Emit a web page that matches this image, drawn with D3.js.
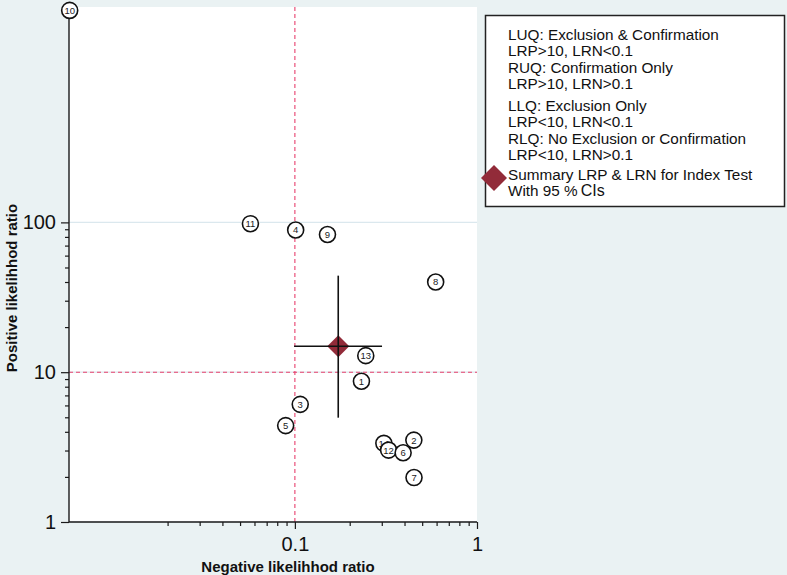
<!DOCTYPE html>
<html>
<head>
<meta charset="utf-8">
<script src="https://cdn.jsdelivr.net/npm/d3@7"></script>
<style>
  body { margin: 0; background: #eaf2f3; }
  svg { display: block; font-family: "Liberation Sans", Arial, sans-serif; }
</style>
</head>
<body>
<svg id="chart" width="787" height="575"></svg>
<script>
// study labels, negative LR (x) and positive LR (y), in drawing order
var studyIds = ["10", "11", "4", "9", "8", "13", "1", "3", "5", "14", "12", "6", "2", "7"];
var studyLRN = [0.0058, 0.057, 0.101, 0.151, 0.593, 0.245, 0.232, 0.107, 0.089, 0.308, 0.327, 0.393, 0.45, 0.451];
var studyLRP = [2600, 98, 89, 83, 40, 12.9, 8.7, 6.1, 4.4, 3.35, 3.02, 2.9, 3.52, 1.98];

// summary point with 95% CIs
var summaryLRN = [0.173, 0.099, 0.301];
var summaryLRP = [14.9, 4.97, 44.1];

// tick values
var xMajorTicks = [0.1, 1];
var xMinorTicks = [0.02, 0.03, 0.04, 0.05, 0.06, 0.07, 0.08, 0.09, 0.2, 0.3, 0.4, 0.5, 0.6, 0.7, 0.8, 0.9];
var yMajorTicks = [1, 10, 100];
var yMinorTicks = [2, 3, 4, 5, 6, 7, 8, 9, 20, 30, 40, 50, 60, 70, 80, 90];

var legendLines = [
    ["LUQ: Exclusion & Confirmation", "LRP>10, LRN<0.1", "RUQ: Confirmation Only", "LRP>10, LRN>0.1"],
    ["LLQ: Exclusion Only", "LRP<10, LRN<0.1", "RLQ: No Exclusion or Confirmation", "LRP<10, LRN>0.1"],
    ["Summary LRP & LRN for Index Test", "With 95 %"]
];

var svgW = 787, svgH = 575;
var margin = {top: 7, right: 310, bottom: 53, left: 69};
var width = svgW - margin.left - margin.right;
var height = svgH - margin.top - margin.bottom;
var red = "#e8416e";
var cranberry = "#922b39";

var svg = d3.select("#chart");
svg.append("rect").attr("width", svgW).attr("height", svgH).attr("fill", "#eaf2f3");

var g = svg.append("g")
    .attr("transform", "translate(" + margin.left + "," + margin.top + ")");

// ======================================================
// SCALES
var x = d3.scaleLog().domain([0.00575, 1]).range([0, width]);
var y = d3.scaleLog().domain([1, 2740]).range([height, 0]);

g.append("rect")
    .attr("width", width)
    .attr("height", height)
    .attr("fill", "#ffffff");

// gridlines
g.append("g")
    .selectAll("line")
    .data(yMajorTicks)
    .enter()
    .append("line")
    .attr("x1", 0).attr("x2", width)
    .attr("y1", function(d) { return y(d); })
    .attr("y2", function(d) { return y(d); })
    .attr("stroke", "#dbe8ee")
    .attr("stroke-width", 1.2);

// reference lines LRN = 0.1, LRP = 10
g.append("line")
    .attr("x1", x(0.1)).attr("x2", x(0.1))
    .attr("y1", 0).attr("y2", height)
    .attr("stroke", red).attr("stroke-width", 1.1)
    .attr("stroke-dasharray", "4,3");
g.append("line")
    .attr("x1", 0).attr("x2", width)
    .attr("y1", y(10)).attr("y2", y(10))
    .attr("stroke", red).attr("stroke-width", 1.1)
    .attr("stroke-dasharray", "4,3");

// axes
var xMinor = g.append("g")
    .attr("transform", "translate(0," + height + ")")
    .call(d3.axisBottom(x).tickValues(xMinorTicks).tickSize(4).tickSizeOuter(0).tickFormat(""));
xMinor.select(".domain").remove();

var xAxis = g.append("g")
    .attr("transform", "translate(0," + height + ")")
    .call(d3.axisBottom(x).tickValues(xMajorTicks).tickSize(7).tickSizeOuter(0)
        .tickFormat(function(d) { return d === 1 ? "1" : "0.1"; }));
xAxis.select(".domain").attr("d", "M0,0H" + width);

var yMinor = g.append("g")
    .call(d3.axisLeft(y).tickValues(yMinorTicks).tickSize(4).tickSizeOuter(0).tickFormat(""));
yMinor.select(".domain").remove();

var yAxis = g.append("g")
    .call(d3.axisLeft(y).tickValues(yMajorTicks).tickSize(8).tickSizeOuter(0).tickFormat(d3.format("d")));
yAxis.select(".domain").attr("d", "M0,0V" + height);

g.selectAll(".tick line").attr("stroke", "#1a1a1a").attr("stroke-width", 1.2);
g.selectAll(".domain").attr("stroke", "#1a1a1a").attr("stroke-width", 1.4);
g.selectAll(".tick text")
    .style("font-family", "'Liberation Sans', Arial, sans-serif")
    .style("font-size", "20px")
    .attr("fill", "#111");
xAxis.selectAll(".tick text").attr("dy", "0.95em");
yAxis.selectAll(".tick text").attr("dx", "-2px");

// axis titles
svg.append("text")
    .attr("x", 288)
    .attr("y", 572)
    .attr("text-anchor", "middle")
    .style("font-size", "15px")
    .style("font-weight", "bold")
    .attr("fill", "#111")
    .text("Negative likelihhod ratio");

svg.append("text")
    .attr("transform", "translate(17,288) rotate(-90)")
    .attr("text-anchor", "middle")
    .style("font-size", "15px")
    .style("font-weight", "bold")
    .attr("fill", "#111")
    .text("Positive likelihhod ratio");

// summary CIs and diamond
var sx = x(summaryLRN[0]), sy = y(summaryLRP[0]);
var dr = 11;
g.append("path")
    .attr("d", "M" + sx + "," + (sy - dr) + "L" + (sx + dr) + "," + sy + "L" + sx + "," + (sy + dr) + "L" + (sx - dr) + "," + sy + "Z")
    .attr("fill", cranberry);
g.append("line")
    .attr("x1", sx).attr("x2", sx)
    .attr("y1", y(summaryLRP[1])).attr("y2", y(summaryLRP[2]))
    .attr("stroke", "#111").attr("stroke-width", 1.6);
g.append("line")
    .attr("x1", x(summaryLRN[1])).attr("x2", x(summaryLRN[2]))
    .attr("y1", sy).attr("y2", sy)
    .attr("stroke", "#111").attr("stroke-width", 1.6);

// study points
var studies = studyIds.map(function(id, i) {
    return {id: id, lrn: studyLRN[i], lrp: studyLRP[i]};
});

var pts = g.selectAll(".study")
    .data(studies)
    .enter()
    .append("g")
    .attr("class", "study")
    .attr("transform", function(d) { return "translate(" + x(d.lrn) + "," + y(d.lrp) + ")"; });

pts.append("circle")
    .attr("r", 8)
    .attr("fill", "#ffffff")
    .attr("stroke", "#111")
    .attr("stroke-width", 1.6);

pts.append("text")
    .attr("text-anchor", "middle")
    .attr("dy", "0.36em")
    .style("font-size", "9.5px")
    .attr("fill", "#222")
    .text(function(d) { return d.id; });

// legend
var legend = svg.append("g");
legend.append("rect")
    .attr("x", 485.5).attr("y", 15.5)
    .attr("width", 299).attr("height", 191)
    .attr("fill", "#ffffff")
    .attr("stroke", "#222")
    .attr("stroke-width", 1.5);

var groupStart = [40, 111, 180];
var lineGap = 16.3;
legendLines.forEach(function(lines, gi) {
    lines.forEach(function(txt, li) {
        var t = legend.append("text")
            .attr("x", 508)
            .attr("y", groupStart[gi] + li * lineGap)
            .style("font-size", "15.3px")
            .attr("fill", "#111")
            .text(txt);
        if (gi === 2 && li === 1) {
            t.append("tspan").attr("dx", 3).style("font-size", "16px").text("CIs");
        }
    });
});

var lx = 494, ly = 178, lr = 13;
legend.append("path")
    .attr("d", "M" + lx + "," + (ly - lr) + "L" + (lx + lr) + "," + ly + "L" + lx + "," + (ly + lr) + "L" + (lx - lr) + "," + ly + "Z")
    .attr("fill", cranberry);
</script>
</body>
</html>
